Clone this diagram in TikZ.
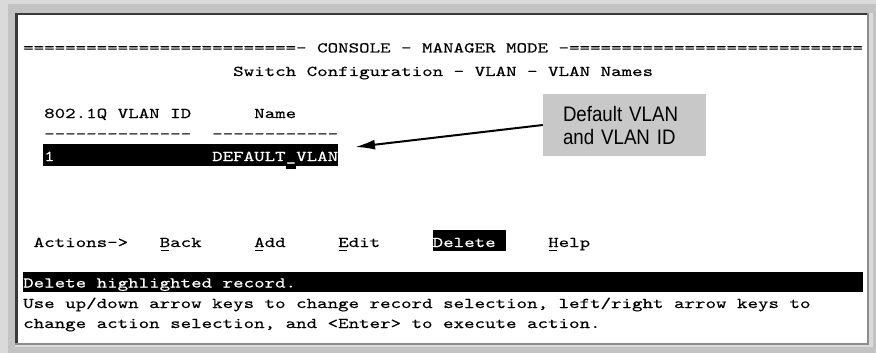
\documentclass[tikz,border=0pt]{standalone}
\usepackage{fontspec}
\usetikzlibrary{arrows.meta,calc}
\newfontfamily\termfont[FakeStretch=1.333,FakeBold=0.35]{lmmono10-regular.otf}
\newfontfamily\calloutfont[FakeStretch=0.89]{Liberation Sans}
\definecolor{frameMid}{HTML}{C3C3C3}
\definecolor{frameLight}{HTML}{DADADA}
\definecolor{panelDark}{HTML}{3A3A3A}
\definecolor{panelEdge}{HTML}{8C8C8C}
\definecolor{calloutGray}{HTML}{C8C8C8}
% console type: one character cell is 10.5pt wide
\newcommand\consoletype{\termfont\fontsize{15}{20}\selectfont\spaceskip=10.5pt\relax}
% a run of hyphens that never turns into a dash ligature
\newcommand\dashrun[1]{\foreach\k in {1,...,#1}{-\kern0pt}}
\begin{document}
\begin{tikzpicture}[x=1pt,y=-1pt,
  term/.style={anchor=base west, inner sep=0pt, font=\consoletype},
  inv/.style={term, text=white},
  ul/.style={line width=1.2pt},
  callout/.style={fill=calloutGray, minimum width=163pt, minimum height=62pt,
    inner xsep=20pt, inner ysep=0pt, text width=123pt, align=left,
    font=\calloutfont\fontsize{21}{23}\selectfont},
  pointer/.style={line width=2pt, -{Latex[length=20pt,width=10pt]}},
]
\useasboundingbox (0,0) rectangle (876,353);
% window frame
\fill[frameMid] (0,0) rectangle (876,353);
\fill[frameLight] (0,0) rectangle (8,353);
\fill[frameLight] (0,0) rectangle (876,4);
% sunken console panel
\fill[white] (18,15) rectangle (867,343);
\fill[panelDark] (15,12.7) rectangle (867,15);
\fill[panelDark] (15,12.7) rectangle (18,343);
\fill[panelEdge] (867,12.7) rectangle (869.3,345);
\fill[panelEdge] (15,343) rectangle (869.3,345);
\fill[frameLight] (869.3,12.7) rectangle (872.7,347.3);
\fill[frameLight] (15,345) rectangle (872.7,347.3);

% header
\node[term] (hdr) at (23,52.5) {==========================- CONSOLE - MANAGER MODE -============================};
\node[term] (title) at ({23+10.5*20},76) {Switch Configuration - VLAN - VLAN Names};

% VLAN table
\node[term] (hid) at ({23+10.5*2},118) {802.1Q VLAN ID};
\node[term] (hname) at ({23+10.5*22},118) {Name};
\node[term] (rule1) at ({23+10.5*2},138.5) {\dashrun{14}};
\node[term] (rule2) at ({23+10.5*18},138.5) {\dashrun{12}};
\fill[black] (43,144) rectangle (338,166);
\fill[black] (285.5,165) rectangle (296,169);
\node[inv] (vid) at ({23+10.5*2},161) {1};
\node[inv] (vname) at ({23+10.5*18},161) {DEFAULT\_VLAN};

% callout
\node[callout] (note) at (624.5,125) {Default VLAN\\and VLAN ID};
\coordinate (tip) at (355,147);
\draw[pointer] (note.west) -- (tip);

% action line
\node[term] (actions) at ({23+10.5*1},247) {Actions->};
\node[term] (aback) at ({23+10.5*13},247) {Back};
\node[term] (aadd) at ({23+10.5*22},247) {Add};
\node[term] (aedit) at ({23+10.5*30},247) {Edit};
\fill[black] (432.5,230) rectangle (506,251);
\node[inv] (adel) at ({23+10.5*39},247) {Delete};
\node[term] (ahelp) at ({23+10.5*50},247) {Help};
\foreach \a in {aback,aadd,aedit,ahelp}
  \draw[ul] ($(\a.base west)+(1,3.5)$) -- ++(8,0);

% status and help lines
\fill[black] (22.5,272) rectangle (863,291.5);
\node[inv] (status) at (23,287.5) {Delete highlighted record.};
\node[term] (help1) at (23,308) {Use up/down arrow keys to change record selection, left/right arrow keys to};
\node[term] (help2) at (23,328) {change action selection, and <Enter> to execute action.};
\end{tikzpicture}
\end{document}
